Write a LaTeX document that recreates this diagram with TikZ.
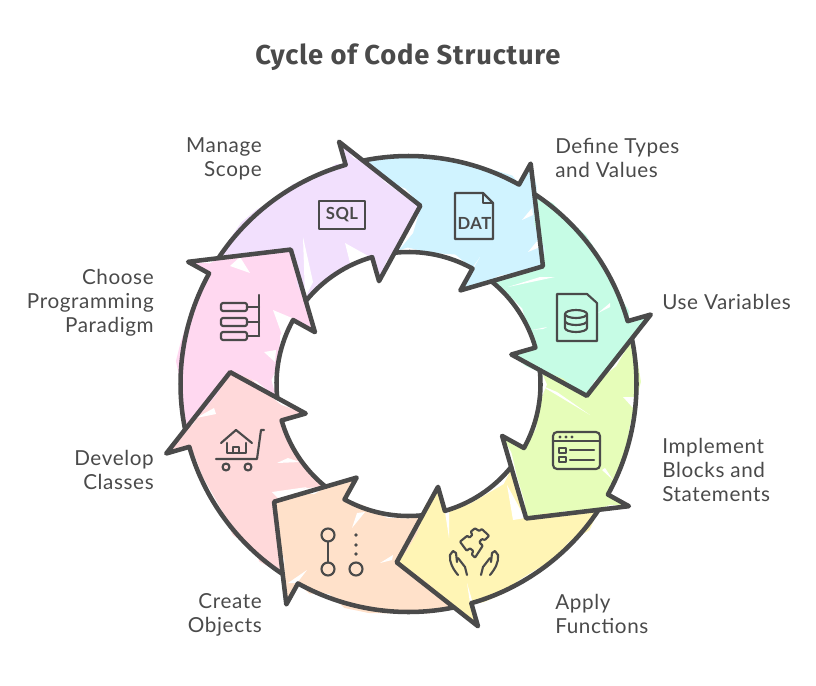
\documentclass[tikz,border=0pt]{standalone}
\usepackage{fontspec}
\usetikzlibrary{decorations.pathmorphing}
\newfontfamily\lblfont[LetterSpace=3]{Lato}
\newfontfamily\ttlfont[LetterSpace=3]{Fira Sans}
\definecolor{ink}{HTML}{4A4A4A}
\definecolor{cblue}{HTML}{D0F3FF}
\definecolor{cmint}{HTML}{C6FCE5}
\definecolor{clime}{HTML}{E6FDB9}
\definecolor{cyell}{HTML}{FFF5B5}
\definecolor{cpeach}{HTML}{FFE1CA}
\definecolor{crose}{HTML}{FFD9DA}
\definecolor{cpink}{HTML}{FFD8F0}
\definecolor{cviol}{HTML}{F2E0FD}
\tikzset{
	lbl/.style={font=\lblfont\fontsize{15.5}{18}\selectfont,text=ink,inner sep=0pt},
	icntxt/.style={font=\lblfont\bfseries\fontsize{12.5}{14}\selectfont,text=ink,inner sep=0pt},
	outl/.style={draw=ink,line width=3.4pt},
	icn/.style={draw=ink,line width=1.6pt},
	roughfill/.style={decorate,decoration={random steps,segment length=16pt,amplitude=3.5pt}},
}
\begin{document}
\begin{tikzpicture}[x=0.75pt,y=-0.75pt,line join=round,line cap=round]
	\useasboundingbox (0,0) rectangle (816,685);
	\def\Ro{228} \def\Ri{132} % radii of the ring
	\def\Rb{252} \def\Rn{107} \def\Rh{178.7} % barbs and head tip
	\pgfmathsetseed{11}
	\node[inner sep=0pt,text=ink] (titleA) at (408,57) {\ttlfont\bfseries\fontsize{20.5}{24}\selectfont Cycle of Code Structure};
	\begin{scope}[shift={(408.5,384)}]
		% fills first, the outlines go over all of them
		\foreach \a/\col in {0/cblue,45/cmint,90/clime,135/cyell,180/cpeach,225/crose,270/cpink,315/cviol}{
			\fill[\col,roughfill] ({\a-101.4}:\Ro) arc[start angle=\a-101.4,end angle=\a-61,radius=\Ro]
				-- ({\a-61}:\Rb) -- ({\a-41.2}:\Rh) -- ({\a-61}:\Rn) -- ({\a-61}:\Ri)
				arc[start angle=\a-61,end angle=\a-96,radius=\Ri] -- ({\a-86}:\Rh) -- cycle;
		}
	\end{scope}
	% white gaps of the hatching
	\foreach \xa/\ya/\xb/\yb/\xc/\yc in {303/237/313/282/305/298, 345/243/350/263/370/257,
		250/273/240/257/230/266, 273/310/292/318/282/335, 264/352/275/362/276/350,
		480/257/460/290/473/267, 532/208/522/220/533/215, 538/240/528/252/540/247, 421/206/413/233/399/250,
		555/277/508/287/540/277, 547/327/532/330/543/329, 610/303/598/313/610/307,
		540/385/590/415/557/392, 602/470/613/480/605/468, 623/397/633/408/635/397,
		449/510/449/538/445/512, 467/583/470/603/472/600, 507/485/513/520/525/518,
		307/570/297/583/288/583, 365/512/352/528/357/513, 393/555/380/563/392/560,
		288/458/277/463/300/462, 272/492/307/487/280/500, 214/408/196/418/216/414}{
		\fill[white] (\xa,\ya) -- (\xb,\yb) -- (\xc,\yc) -- cycle;
	}
	\begin{scope}[shift={(408.5,384)}]
		\foreach \a in {0,45,...,315}{
			\draw[outl] ({\a-101.4}:\Ro) arc[start angle=\a-101.4,end angle=\a-61,radius=\Ro]
				-- ({\a-61}:\Rb) -- ({\a-41.2}:\Rh) -- ({\a-61}:\Rn) -- ({\a-61}:\Ri)
				arc[start angle=\a-61,end angle=\a-96,radius=\Ri];
		}
	\end{scope}
	% labels
	\node[lbl,anchor=east,align=right] (lblScope) at (262,159) {Manage\\Scope};
	\node[lbl,anchor=west,align=left] (lblTypes) at (555,158) {Define Types\\and Values};
	\node[lbl,anchor=west,align=left] (lblVars) at (662,302) {Use Variables};
	\node[lbl,anchor=west,align=left] (lblBlocks) at (662,470) {Implement\\Blocks and\\Statements};
	\node[lbl,anchor=west,align=left] (lblFuncs) at (555,614) {Apply\\Functions};
	\node[lbl,anchor=east,align=right] (lblObjs) at (262,615) {Create\\Objects};
	\node[lbl,anchor=east,align=right] (lblClass) at (154,470) {Develop\\Classes};
	\node[lbl,anchor=east,align=right] (lblParad) at (154,303) {Choose\\Programming\\Paradigm};
	% icon: SQL
	\draw[icn] (319,201) rectangle (365,229);
	\node[icntxt] (txtSql) at (342,215) {SQL};
	% icon: DAT
	\draw[icn] (483,193) -- (455,193) -- (455,239) -- (493,239) -- (493,203) -- cycle;
	\draw[icn] (483,193) -- (483,203) -- (493,203);
	\node[icntxt] (txtDat) at (474.5,223) {DAT};
	% icon: database file
	\draw[icn] (587,294) -- (557,294) -- (557,341) -- (597,341) -- (597,303) -- cycle;
	\draw[icn] (576,314) ellipse[x radius=11,y radius=4];
	\draw[icn] (565,314) -- (565,328) arc[start angle=180,end angle=0,x radius=11,y radius=4] -- (587,314);
	\draw[icn] (565,321) arc[start angle=180,end angle=0,x radius=11,y radius=4];
	% icon: window with list
	\draw[icn,rounded corners=3pt] (553,432) rectangle (600,469);
	\foreach \x in {560,566,572}{ \fill[ink] (\x,437) circle[radius=1.6]; }
	\draw[icn] (553,441) -- (600,441);
	\draw[icn] (559,448) rectangle (566,453);
	\draw[icn] (559,457) rectangle (566,462);
	\draw[icn] (570,450) -- (594,450);
	\draw[icn] (570,460) -- (594,460);
	% icon: puzzle and hands
	\draw[icn,rounded corners=0.6pt] (460,541.7) -- (467.3,535.7) -- (469.3,537.7) -- (472.3,535) -- (470.7,531.7)
		-- (475,528.3) -- (479.3,531) -- (481.7,529) -- (489,535.7) -- (485,540) -- (481.7,539) -- (479.3,542.3)
		-- (482.7,545.7) -- (475,557.7) -- (471.7,554.3) -- (473.3,551) -- (470,548.3) -- (466.7,550.7) -- cycle;
	\foreach \sx in {-1,1}{
		\begin{scope}[shift={(474,0)},xscale=\sx]
			\draw[icn] (-16,575) .. controls (-21,569) and (-25,562) .. (-24,555) -- (-21,551) -- (-18,553) -- (-17,562);
			\draw[icn] (-16,558) -- (-9,567) -- (-7,575);
		\end{scope}
	}
	% icon: branch and dots
	\draw[icn] (328,535) circle[radius=6.5] (328,569) circle[radius=6.5];
	\draw[icn] (328,541.5) -- (328,562.5);
	\draw[icn] (356,569) circle[radius=6.5];
	\foreach \y in {535,545,554}{ \fill[ink] (356,\y) circle[radius=1.8]; }
	% icon: house on a cart
	\draw[icn] (221,443) -- (236,430) -- (252,443);
	\draw[icn] (227,443) -- (227,453) -- (246,453) -- (246,443);
	\draw[icn] (233,453) -- (233,447) -- (239,447) -- (239,453);
	\draw[icn] (216,459) -- (257,459) -- (261,430) -- (264,430);
	\draw[icn] (226,467) circle[radius=3.5] (248,467) circle[radius=3.5];
	% icon: tree of three boxes
	\foreach \y in {307,322,336}{
		\draw[icn,rounded corners=1.5pt] (221,\y-4) rectangle (247,\y+4);
		\draw[icn] (247,\y) -- (259,\y);
	}
	\draw[icn] (259,295) -- (259,336);
\end{tikzpicture}
\end{document}
